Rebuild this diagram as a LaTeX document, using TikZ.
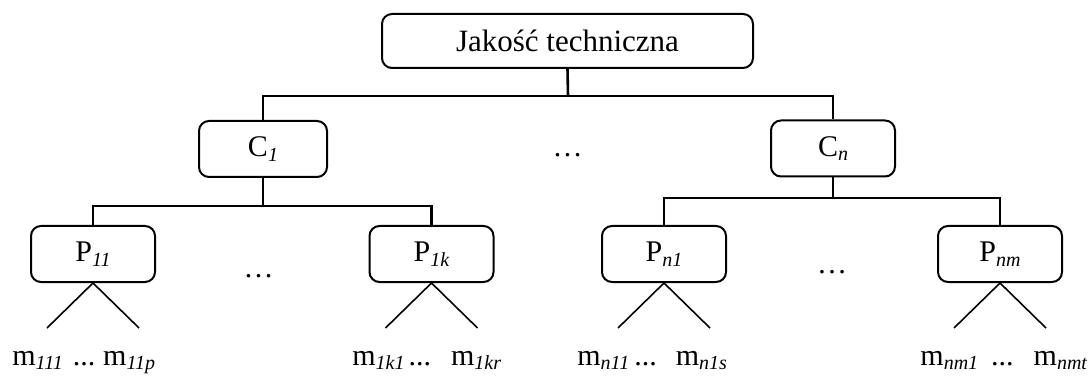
\documentclass[tikz,border=0pt]{standalone}
\usepackage{fontspec}
\setmainfont{Liberation Serif}
\usepackage{tikz}
\usetikzlibrary{positioning}

\newcommand{\ix}[1]{\raisebox{-0.16em}{\fontsize{10}{10}\selectfont\itshape #1}}

\tikzset{
	box/.style={draw, rounded corners=5pt, line width=1pt, minimum width=62pt, minimum height=28pt, inner sep=0pt, font=\fontsize{15}{18}\selectfont},
	txt/.style={inner sep=0pt, anchor=base, font=\fontsize{15}{18}\selectfont},
	mtxt/.style={inner sep=0pt, anchor=base west, font=\fontsize{15}{18}\selectfont},
	link/.style={line width=1.3pt},
	leg/.style={line width=0.8pt}
}

\begin{document}
\begin{tikzpicture}[x=0.5pt,y=-0.5pt]
	\useasboundingbox (0,0) rectangle (1091,379);

	\node[box,minimum width=185.5pt,minimum height=27pt,font=\fontsize{15.5}{18}\selectfont] (top) at (567.5,41) {Jako\'s\'c techniczna};

	\node[box,minimum width=64pt] (c1) at (263,149) {C\ix{1}};
	\node[box] (cn) at (833,148.5) {C\ix{n}};
	\node[txt] (cdots) at (567.5,157) {\ldots};

	\node[box] (p11) at (93,254) {P\ix{11}};
	\node[box] (p1k) at (431.5,254) {P\ix{1k}};
	\node[box] (pn1) at (664,254) {P\ix{n1}};
	\node[box] (pnm) at (1000,254) {P\ix{nm}};
	\node[txt] (pdots1) at (258.5,278) {\ldots};
	\node[txt] (pdots2) at (832,273) {\ldots};

	% bars
	\coordinate (bar0) at (568,96);
	\coordinate (bar1) at (263,206);
	\coordinate (bar2) at (833,198);

	\draw[link] (top.south) -- (bar0);
	\draw[link] (c1.north) |- (bar0) -| (cn.north);
	\draw[link] (c1.south) -- (bar1);
	\draw[link] (p11.north) |- (bar1) -| (p1k.north);
	\draw[link] (cn.south) -- (bar2);
	\draw[link] (pn1.north) |- (bar2) -| (pnm.north);

	% legs
	\foreach \p in {p11,p1k,pn1,pnm}
		\draw[leg] (\p.south) -- ++(-46,45) (\p.south) -- ++(46,45);

	\node[mtxt] (m11) at (12,365) {m\ix{111}\hspace{5pt}...\hspace{4pt}m\ix{11p}};
	\node[mtxt] (m1k) at (352,365) {m\ix{1k1}\hspace{2pt}...\hspace{10pt}m\ix{1kr}};
	\node[mtxt] (mn1) at (577,365) {m\ix{n11}\hspace{2.5pt}...\hspace{9.5pt}m\ix{n1s}};
	\node[mtxt] (mnm) at (920,365) {m\ix{nm1}\hspace{6.5pt}...\hspace{10pt}m\ix{nmt}};
\end{tikzpicture}
\end{document}
